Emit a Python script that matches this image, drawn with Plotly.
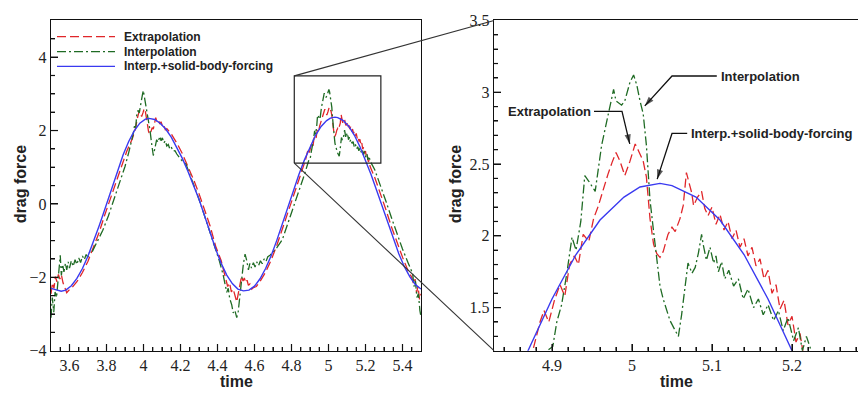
import math
import plotly.graph_objects as go

# ---------------------------------------------------------------------------
# Drag force histories for the three boundary treatments
# ---------------------------------------------------------------------------
series_names = ["Extrapolation", "Interpolation", "Interp.+solid-body-forcing"]

t_extrap = [
    3.500, 3.508, 3.516, 3.524, 3.532, 3.540, 3.548, 3.556, 3.565, 3.575, 3.585, 3.595,
    3.610, 3.640, 3.670, 3.700, 3.730, 3.760, 3.790, 3.820, 3.850, 3.880, 3.910, 3.940,
    3.950, 3.958, 3.965, 3.970, 3.978, 3.985, 3.990, 3.997, 4.004, 4.010, 4.016, 4.022,
    4.027, 4.033, 4.040, 4.047, 4.053, 4.060, 4.066, 4.072, 4.080, 4.088, 4.095, 4.102,
    4.110, 4.118, 4.126,
    4.150, 4.180, 4.210, 4.240, 4.270, 4.300, 4.330, 4.360, 4.390,
    4.420, 4.440, 4.455, 4.465, 4.475, 4.485, 4.495, 4.504, 4.512, 4.520, 4.530, 4.538,
    4.545, 4.553, 4.560, 4.567, 4.575, 4.585, 4.595, 4.610, 4.630, 4.660, 4.690, 4.720,
    4.750, 4.780, 4.810, 4.840, 4.870,
    4.876, 4.885, 4.890, 4.896, 4.903, 4.910, 4.916, 4.922, 4.928, 4.933, 4.939, 4.946,
    4.952, 4.958, 4.966, 4.970, 4.975, 4.980, 4.985, 4.991, 4.9975, 5.004, 5.0075, 5.014,
    5.018, 5.020, 5.0225, 5.027, 5.031, 5.035, 5.039, 5.045, 5.050, 5.054, 5.060, 5.064,
    5.068, 5.0746, 5.077, 5.082, 5.087, 5.091,
    5.095, 5.100, 5.105, 5.110, 5.115, 5.120, 5.125, 5.130, 5.135, 5.140, 5.145, 5.150,
    5.155, 5.160, 5.165, 5.170, 5.175, 5.180, 5.185, 5.190, 5.195, 5.200, 5.205, 5.210,
    5.215, 5.220, 5.225, 5.250, 5.280, 5.310, 5.340, 5.370, 5.400, 5.430, 5.450, 5.460,
    5.468, 5.476, 5.484, 5.492, 5.500,
]
f_extrap = [
    -2.45, -2.15, -2.30, -1.98, -2.12, -1.92, -2.05, -1.93, -2.15, -2.30, -2.42, -2.36,
    -2.30, -2.12, -1.87, -1.56, -1.19, -0.78, -0.31, 0.12, 0.59, 1.04, 1.44, 1.78,
    1.92, 2.08, 2.30, 2.38, 2.55, 2.45, 2.38, 2.48, 2.60, 2.52, 2.38, 2.15,
    1.98, 1.90, 1.97, 2.08, 2.04, 2.18, 2.35, 2.25, 2.30, 2.18, 2.24, 2.12,
    2.15, 2.02, 2.05,
    1.91, 1.66, 1.37, 1.03, 0.67, 0.28, -0.14, -0.60, -1.15,
    -1.55, -1.95, -2.25, -2.15, -2.40, -2.32, -2.55, -2.67, -2.45, -2.20, -1.97, -2.10,
    -2.02, -2.15, -2.08, -2.22, -2.18, -2.32, -2.28, -2.25, -2.11, -1.86, -1.53, -1.14,
    -0.70, -0.24, 0.22, 0.66, 1.10,
    1.20, 1.40, 1.48, 1.40, 1.55, 1.66, 1.58, 1.80, 1.86, 1.80, 2.01, 1.96,
    2.12, 2.21, 2.36, 2.43, 2.51, 2.58, 2.52, 2.42, 2.52, 2.64, 2.60, 2.52,
    2.41, 2.30, 2.12, 1.94, 1.875, 1.85, 1.89, 2.01, 2.06, 2.03, 2.12, 2.21,
    2.44, 2.30, 2.21, 2.27, 2.31, 2.19,
    2.14, 2.20, 2.08, 2.15, 2.04, 2.10, 1.98, 2.04, 1.92, 1.98, 1.86, 1.92,
    1.79, 1.84, 1.70, 1.76, 1.60, 1.66, 1.49, 1.55, 1.38, 1.44, 1.26, 1.32,
    1.15, 1.18, 1.02, 0.72, 0.30, -0.15, -0.62, -1.06, -1.45, -1.82, -2.00, -2.18,
    -2.05, -2.42, -2.25, -2.60, -2.45,
]

t_interp = [
    3.500, 3.507, 3.515, 3.522, 3.530, 3.540, 3.550, 3.556, 3.563, 3.570, 3.578, 3.585,
    3.593, 3.600, 3.610, 3.620, 3.630, 3.640, 3.650, 3.660, 3.670, 3.680, 3.690, 3.700,
    3.710, 3.720, 3.735, 3.750, 3.780, 3.810, 3.840, 3.870, 3.900, 3.920, 3.935,
    3.945, 3.952, 3.958, 3.963, 3.970, 3.977, 3.983, 3.990, 3.995, 3.999, 4.004, 4.010,
    4.017, 4.025, 4.035, 4.045, 4.053, 4.060, 4.066, 4.071, 4.078, 4.084, 4.089, 4.095,
    4.102, 4.110, 4.118, 4.126, 4.134, 4.142, 4.150, 4.160, 4.170, 4.180, 4.190, 4.200,
    4.230, 4.260, 4.290, 4.320, 4.350, 4.380, 4.410, 4.430, 4.440, 4.450, 4.458, 4.466,
    4.477, 4.485, 4.494, 4.504, 4.512, 4.520, 4.530, 4.540, 4.549, 4.558, 4.567, 4.575,
    4.584, 4.594, 4.603, 4.612, 4.622, 4.632, 4.642, 4.652, 4.662, 4.672, 4.684, 4.700,
    4.720, 4.750, 4.780, 4.810, 4.840, 4.870, 4.894,
    4.901, 4.906, 4.912, 4.918, 4.925, 4.930, 4.936, 4.941, 4.946, 4.954, 4.962, 4.966,
    4.970, 4.977, 4.980, 4.987, 4.991, 4.9975, 5.002, 5.006, 5.010, 5.014, 5.018, 5.020,
    5.0225, 5.027, 5.031, 5.035, 5.039, 5.0435, 5.0475, 5.054, 5.058, 5.062, 5.066, 5.070,
    5.075, 5.079, 5.083, 5.087, 5.089, 5.093, 5.0975, 5.102, 5.105, 5.108, 5.112, 5.116,
    5.121, 5.127, 5.133, 5.139, 5.145, 5.152, 5.158, 5.164, 5.170, 5.177, 5.183, 5.189,
    5.195, 5.202, 5.208, 5.213, 5.218, 5.227,
    5.250, 5.280, 5.310, 5.340, 5.370, 5.400, 5.430, 5.455, 5.462, 5.470, 5.478, 5.486,
    5.494, 5.500,
]
f_interp = [
    -3.10, -2.55, -2.95, -2.40, -2.55, -1.85, -1.40, -1.95, -1.65, -1.85, -1.62, -1.80,
    -1.58, -1.75, -1.55, -1.70, -1.52, -1.65, -1.47, -1.60, -1.42, -1.52, -1.38, -1.45,
    -1.30, -1.33, -1.18, -1.05, -0.72, -0.33, 0.10, 0.55, 1.02, 1.40, 1.68,
    1.92, 2.15, 2.08, 2.40, 2.55, 2.48, 2.70, 2.83, 3.00, 3.09, 2.95, 2.75,
    2.53, 2.25, 2.01, 1.60, 1.32, 1.48, 1.65, 1.75, 1.68, 1.80, 1.84, 1.72,
    1.80, 1.66, 1.72, 1.58, 1.62, 1.50, 1.55, 1.44, 1.45, 1.36, 1.30, 1.22,
    1.08, 0.70, 0.27, -0.17, -0.63, -1.08, -1.55, -1.92, -2.20, -2.41, -2.30, -2.58,
    -2.75, -2.97, -2.90, -3.10, -2.93, -2.55, -2.05, -1.63, -1.37, -1.54, -1.80, -1.62,
    -1.75, -1.60, -1.72, -1.58, -1.68, -1.55, -1.63, -1.50, -1.57, -1.44, -1.40, -1.30,
    -1.20, -0.98, -0.55, -0.08, 0.37, 0.80, 1.20,
    1.23, 1.40, 1.52, 1.72, 1.99, 1.90, 2.10, 2.42, 2.38, 2.31, 2.63, 2.74,
    2.85, 3.02, 2.94, 2.91, 2.94, 3.07, 3.12, 3.05, 2.94, 2.85, 2.63, 2.45,
    2.25, 2.03, 1.85, 1.65, 1.56, 1.475, 1.41, 1.34, 1.30, 1.45, 1.65, 1.81,
    1.74, 1.78, 1.88, 2.01, 1.94, 1.83, 1.92, 1.81, 1.86, 1.75, 1.82, 1.70,
    1.76, 1.65, 1.70, 1.56, 1.63, 1.50, 1.56, 1.45, 1.52, 1.41, 1.48, 1.34,
    1.43, 1.27, 1.36, 1.20, 1.30, 1.15,
    0.93, 0.52, 0.08, -0.37, -0.82, -1.23, -1.60, -1.90, -2.25, -2.10, -2.55, -2.45,
    -2.90, -3.08,
]

t_sbf = [
    3.50, 3.53, 3.555, 3.58, 3.61, 3.64, 3.67, 3.70, 3.73, 3.76, 3.78, 3.80, 3.83, 3.86,
    3.89, 3.92, 3.95, 3.98, 4.01, 4.03,
    4.06, 4.09, 4.12, 4.15, 4.18, 4.21, 4.24, 4.27, 4.30, 4.33, 4.36, 4.39, 4.42, 4.45,
    4.48, 4.51, 4.54,
    4.57, 4.60, 4.63, 4.66, 4.69, 4.72, 4.75, 4.78, 4.81, 4.84, 4.87, 4.90, 4.93, 4.96,
    4.99, 5.01, 5.035,
    5.05, 5.08, 5.11, 5.14, 5.17, 5.20, 5.23, 5.26, 5.29, 5.32, 5.35, 5.38, 5.41, 5.44,
    5.47, 5.50,
]
f_sbf = [
    -2.30, -2.35, -2.38, -2.35, -2.23, -2.03, -1.76, -1.42, -1.03, -0.60, -0.31, 0.00,
    0.47, 0.93, 1.34, 1.70, 1.99, 2.20, 2.31, 2.33,
    2.30, 2.20, 2.04, 1.82, 1.55, 1.24, 0.89, 0.52, 0.13, -0.32, -0.79, -1.23, -1.62,
    -1.94, -2.17, -2.32, -2.37,
    -2.35, -2.24, -2.04, -1.76, -1.41, -1.00, -0.55, -0.08, 0.37, 0.80, 1.20, 1.56,
    1.87, 2.11, 2.27, 2.34, 2.365,
    2.35, 2.27, 2.11, 1.87, 1.56, 1.20, 0.80, 0.37, -0.06, -0.53, -0.96, -1.36, -1.71,
    -1.99, -2.20, -2.32,
]

# axis ranges
full_time_range = [3.5, 5.5]
full_force_range = [-4.0, 5.0]
zoom_time_range = [4.8275, 5.2825]
zoom_force_range = [1.2, 3.5]
zoom_box = [4.815, 5.283, 1.11, 3.49]  # x0, x1, y0, y1 of the framed window

# ---------------------------------------------------------------------------
# styling
# ---------------------------------------------------------------------------
W, H = 858, 398
RED, GREEN, BLUE = "#e0262a", "#1f6b24", "#3a3af0"
styles = [
    dict(color=RED, width=1.3, dash="9px,4px"),
    dict(color=GREEN, width=1.3, dash="9px,3px,2px,3px"),
    dict(color=BLUE, width=1.4, dash="solid"),
]
data_t = [t_extrap, t_interp, t_sbf]
data_f = [f_extrap, f_interp, f_sbf]

# plot areas in pixels: left, right, top, bottom
LEFT_PX = (51, 421, 13, 358)
RIGHT_PX = (494, 858, 13, 358)
LEFT_X = [LEFT_PX[0] / W, LEFT_PX[1] / W]
RIGHT_X = [RIGHT_PX[0] / W, 1.0]
PLOT_Y = [1 - 358 / H, 1 - 13 / H]

SERIF = "Liberation Serif, Times New Roman, serif"
SANS = "Liberation Sans, Arial, sans-serif"
INK = "#111111"

fig = go.Figure()
for xa, ya in (("x", "y"), ("x2", "y2")):
    for name, tt, ff, st in zip(series_names, data_t, data_f, styles):
        fig.add_trace(go.Scatter(
            x=tt, y=ff, mode="lines", name=name, line=st,
            xaxis=xa, yaxis=ya, showlegend=False, hoverinfo="skip",
        ))


def make_axis(domain, rng, anchor, dtick, tick0, minor_dtick, mirror):
    return dict(
        domain=domain, range=rng, anchor=anchor, autorange=False,
        showgrid=False, zeroline=False,
        showline=True, linecolor=INK, linewidth=1.4, mirror=mirror,
        ticks="inside", ticklen=7, tickwidth=1.3, tickcolor=INK,
        tickmode="linear", dtick=dtick, tick0=tick0,
        tickfont=dict(family=SERIF, size=16, color="#222"),
        minor=dict(ticks="inside", ticklen=4, tickwidth=1.1, tickcolor=INK,
                   dtick=minor_dtick, showgrid=False),
    )


def to_px(t, v, area, xr, yr):
    x0, x1, top, bot = area
    return (x0 + (t - xr[0]) / (xr[1] - xr[0]) * (x1 - x0),
            bot - (v - yr[0]) / (yr[1] - yr[0]) * (bot - top))


def tick_values(lo, hi, minor, sub):
    """(value, is_major) pairs for every minor step inside [lo, hi]."""
    k0 = math.ceil(lo / minor - 1e-9)
    k1 = math.floor(hi / minor + 1e-9)
    return [(k * minor, k % sub == 0) for k in range(k0, k1 + 1)]


def tick_marks(area, xr, yr, x_minor, x_sub, y_minor, y_sub):
    """Inward tick segments along the bottom and left edges of a panel."""
    x0, x1, top, bot = area
    xs, ys = [], []
    for t, major in tick_values(xr[0], xr[1], x_minor, x_sub):
        px = to_px(t, yr[0], area, xr, yr)[0]
        if x0 + 0.5 < px < x1 - 0.5:
            ln = 7 if major else 4
            xs += [px, px, None]
            ys += [bot, bot - ln, None]
    for v, major in tick_values(yr[0], yr[1], y_minor, y_sub):
        py = to_px(xr[0], v, area, xr, yr)[1]
        if top + 0.5 < py < bot - 0.5:
            ln = 7 if major else 4
            xs += [x0, x0 + ln, None]
            ys += [py, py, None]
    return go.Scatter(x=xs, y=ys, mode="lines", line=dict(color=INK, width=1.2))


# window frame on the full history
bx0, bx1, by0, by1 = zoom_box
fig.add_trace(go.Scatter(
    x=[bx0, bx1, bx1, bx0, bx0], y=[by0, by0, by1, by1, by0], mode="lines",
    line=dict(color="#222", width=1.2), xaxis="x", yaxis="y",
    showlegend=False, hoverinfo="skip",
))

# page-wide overlay (pixel units) for guide lines, tick marks and legend keys
overlay_traces = []
for yv, target in ((by1, zoom_force_range[1]), (by0, zoom_force_range[0])):
    p0 = to_px(bx0, yv, LEFT_PX, full_time_range, full_force_range)
    p1 = to_px(zoom_time_range[0], target, RIGHT_PX, zoom_time_range, zoom_force_range)
    overlay_traces.append(go.Scatter(x=[p0[0], p1[0]], y=[p0[1], p1[1]], mode="lines",
                                     line=dict(color="#333", width=1.1)))

overlay_traces.append(tick_marks(LEFT_PX, full_time_range, full_force_range,
                                 0.05, 4, 0.5, 4))
overlay_traces.append(tick_marks(RIGHT_PX, zoom_time_range, zoom_force_range,
                                 0.02, 5, 0.1, 5))

annotations = []
legend_rows = [30, 45.5, 61]
for name, st, py in zip(series_names, styles, legend_rows):
    overlay_traces.append(go.Scatter(x=[57, 115], y=[py, py], mode="lines", line=st))
    annotations.append(dict(xref="paper", yref="paper", x=122 / W, y=1 - py / H,
                            text=f"<b>{name}</b>", showarrow=False,
                            xanchor="left", yanchor="middle",
                            font=dict(family=SANS, size=12, color="#222")))

for tr in overlay_traces:
    tr.update(xaxis="x3", yaxis="y3", showlegend=False, hoverinfo="skip")
    fig.add_trace(tr)

# labelled arrows in the magnified panel: (label, text x, text y, anchor, leader, head)
callouts = [
    ("Interpolation", 5.1085, 3.113, "left", (5.106, 5.05, 3.113), (5.016, 2.905)),
    ("Extrapolation", 4.951, 2.867, "right", (4.9525, 4.9875, 2.867), (4.9972, 2.640)),
    ("Interp.+solid-body-forcing", 5.071, 2.713, "left", (5.069, 5.05, 2.713), (5.0315, 2.395)),
]
for label, tx, ty, anchor, (lx, ex, ey), (hx, hy) in callouts:
    annotations.append(dict(xref="x2", yref="y2", x=tx, y=ty, text=f"<b>{label}</b>",
                            showarrow=False, xanchor=anchor, yanchor="middle",
                            font=dict(family=SANS, size=13, color="#222")))
    fig.add_trace(go.Scatter(
        x=[lx, ex, hx], y=[ey, ey, hy], mode="lines+markers",
        line=dict(color=INK, width=1.3),
        marker=dict(symbol="arrow", size=[0, 0, 10], angleref="previous",
                    color=INK, line=dict(width=0)),
        xaxis="x2", yaxis="y2", showlegend=False, hoverinfo="skip", cliponaxis=False,
    ))

# axis titles
title_font = dict(family=SANS, size=16, color="#222")
for xp in ((LEFT_PX[0] + LEFT_PX[1]) / 2 / W, (RIGHT_PX[0] + RIGHT_PX[1]) / 2 / W):
    annotations.append(dict(xref="paper", yref="paper", x=xp, y=1 - 390 / H,
                            text="<b>time</b>", showarrow=False, font=title_font,
                            xanchor="center", yanchor="middle"))
for xp in (20 / W, 455 / W):
    annotations.append(dict(xref="paper", yref="paper", x=xp, y=1 - 184 / H,
                            text="<b>drag force</b>", showarrow=False, font=title_font,
                            textangle=-90, xanchor="center", yanchor="middle"))

fig.update_layout(
    width=W, height=H, margin=dict(l=0, r=0, t=0, b=0),
    paper_bgcolor="white", plot_bgcolor="rgba(0,0,0,0)",
    xaxis=make_axis(LEFT_X, full_time_range, "y", 0.2, 3.6, 0.05, True),
    yaxis=make_axis(PLOT_Y, full_force_range, "x", 2, 0, 0.5, True),
    xaxis2=make_axis(RIGHT_X, zoom_time_range, "y2", 0.1, 4.9, 0.02, True),
    yaxis2=make_axis(PLOT_Y, zoom_force_range, "x2", 0.5, 1.5, 0.1, False),
    xaxis3=dict(domain=[0, 1], range=[0, W], anchor="y3", visible=False, fixedrange=True),
    yaxis3=dict(domain=[0, 1], range=[H, 0], anchor="x3", visible=False, fixedrange=True),
    annotations=annotations,
)
fig.write_html("out.html")
